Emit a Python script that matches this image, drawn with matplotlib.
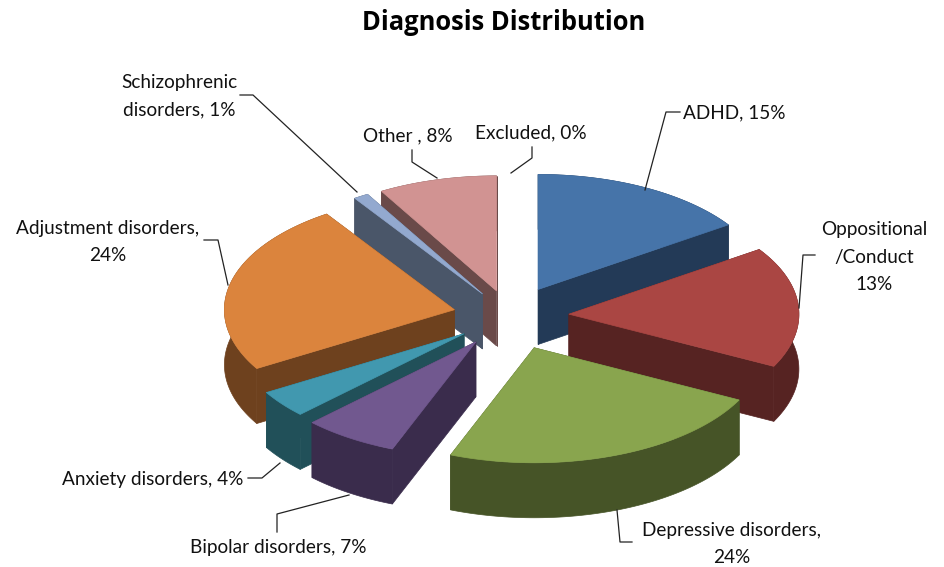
import numpy as np
import matplotlib
matplotlib.use("Agg")
import matplotlib.pyplot as plt
from matplotlib.patches import Polygon

# ---- data
categories = ["ADHD", "Oppositional /Conduct", "Depressive disorders", "Bipolar disorders",
              "Anxiety disorders", "Adjustment disorders", "Schizophrenic disorders", "Other", "Excluded"]
values = [15, 13, 24, 7, 4, 24, 1, 8, 0]
title = "Diagnosis Distribution"

# ---- style
top_colors = ["#4674A9", "#AA4643", "#89A54E", "#71588F", "#4198AF", "#DB843D", "#93A9CF", "#D19392", "#B9CD96"]
side_colors = ["#233A57", "#562322", "#465427", "#3A2C4C", "#215059", "#6E411E", "#4A5669", "#6A4A49", "#5E6A4B"]
explode = [60, 59, 68, 62, 58, 57, 52, 52, 0]
draw_order = [7, 6, 0, 5, 1, 4, 3, 2]
CX, CY, RX, RY, DEPTH = 510, 316, 230, 115, 55


def warp(t):
    """view distortion of the pseudo-3D projection (degrees to degrees)"""
    return t + np.interp(t, [0, 56, 105, 195, 236, 326, 360], [0, -0.5, 12, 6.3, 3, 0, 0])


def rim_xy(t):
    r = np.radians(warp(np.asarray(t, dtype=float)))
    return RX * np.sin(r), -RY * np.cos(r)


fig = plt.figure(figsize=(9.44, 5.67), dpi=100)
ax = fig.add_axes([0, 0, 1, 1])
ax.set_xlim(0, 944)
ax.set_ylim(567, 0)
ax.axis("off")
plt.rcParams["font.family"] = ["Lato", "DejaVu Sans"]

shares = np.array(values, dtype=float)
edges = np.concatenate([[0], np.cumsum(shares)]) / shares.sum() * 360

for i in draw_order:
    t0, t1 = edges[i], edges[i + 1]
    mid = warp((t0 + t1) / 2)
    ax0 = CX + explode[i] * np.sin(np.radians(mid))
    ay0 = CY - explode[i] * RY / RX * np.cos(np.radians(mid))
    ts = np.linspace(t0, t1, 80)
    dx, dy = rim_xy(ts)
    rx, ry = ax0 + dx, ay0 + dy
    side = side_colors[i]
    # cut faces
    for k in (0, -1):
        ax.add_patch(Polygon([(ax0, ay0), (rx[k], ry[k]), (rx[k], ry[k] + DEPTH), (ax0, ay0 + DEPTH)],
                             closed=True, fc=side, ec=side, lw=0.5, zorder=1))
    # outer wall
    wall = np.column_stack([np.r_[rx, rx[::-1]], np.r_[ry, ry[::-1] + DEPTH]])
    ax.add_patch(Polygon(wall, closed=True, fc=side, ec=side, lw=0.5, zorder=1))
    # top face
    face = np.column_stack([np.r_[ax0, rx], np.r_[ay0, ry]])
    ax.add_patch(Polygon(face, closed=True, fc=top_colors[i], ec=top_colors[i], lw=0.5, zorder=1))

# ---- title and labels
ax.text(504, 22, title, ha="center", va="center", fontsize=18.4, fontweight="bold",
        family=["Open Sans", "DejaVu Sans"], color="black")
labels = [
    (734, 113, "ADHD, 15%"),
    (874, 257, "Oppositional\n/Conduct\n13%"),
    (732, 544, "Depressive disorders,\n24%"),
    (278, 547, "Bipolar disorders, 7%"),
    (153, 480, "Anxiety disorders, 4%"),
    (108, 242, "Adjustment disorders,\n24%"),
    (179, 96, "Schizophrenic\ndisorders, 1%"),
    (408, 136, "Other , 8%"),
    (531, 133, "Excluded, 0%"),
]
for x, y, s in labels:
    ax.text(x, y, s, ha="center", va="center", fontsize=13.7, color="#111111", linespacing=1.72)

leaders = [
    [(680, 112), (666, 112), (645, 190)],
    [(815, 255), (803, 255), (799, 308)],
    [(632, 542), (620, 542), (617, 510)],
    [(277, 532), (277, 514), (349, 495)],
    [(248, 478), (262, 478), (280, 463)],
    [(204, 240), (218, 240), (228, 285)],
    [(240, 95), (253, 95), (357, 192)],
    [(412, 150), (412, 162), (437, 178)],
    [(532, 147), (532, 158), (511, 173)],
]
for pts in leaders:
    xs, ys = zip(*pts)
    ax.plot(xs, ys, color="#222222", lw=0.9, zorder=2)

fig.savefig("out.png", dpi=100)
